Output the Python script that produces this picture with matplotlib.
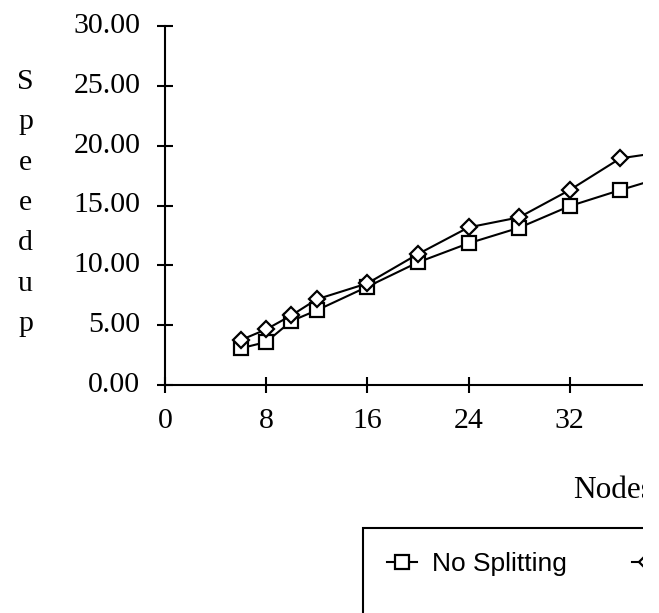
import matplotlib
matplotlib.use("Agg")
import matplotlib.pyplot as plt
from matplotlib.patches import Rectangle
from matplotlib.ticker import FormatStrFormatter

# データ
nodes = [6, 8, 10, 12, 16, 20, 24, 28, 32, 36, 40]
no_split = [3.07, 3.59, 5.35, 6.24, 8.21, 10.25, 11.84, 13.14, 14.95, 16.29, 17.56]
split = [3.76, 4.65, 5.82, 7.16, 8.49, 10.94, 13.17, 14.01, 16.29, 18.94, 19.56]
x_ticks = [0, 8, 16, 24, 32]
y_ticks = [0, 5, 10, 15, 20, 25, 30]
labels = ["No Splitting", "Splitting"]

W, H = 659, 613
serif = "Liberation Serif"
sans = "Liberation Sans"

fig = plt.figure(figsize=(W / 100, H / 100), dpi=100)
ax = fig.add_axes([165 / W, 228 / H, 607 / W, 359 / H])

l1, = ax.plot(nodes, no_split, color="black", lw=1.5, marker="s", ms=10,
              mfc="white", mec="black", mew=1.6, label=labels[0])
l2, = ax.plot(nodes, split, color="black", lw=1.5, marker="D", ms=8.5,
              mfc="white", mec="black", mew=1.6, label=labels[1])

ax.set_xlim(0, 48)
ax.set_ylim(0, 30)
ax.set_xticks(x_ticks)
ax.set_yticks(y_ticks)
ax.yaxis.set_major_formatter(FormatStrFormatter("%.2f"))
for s in ["top", "right"]:
    ax.spines[s].set_visible(False)
for s in ["left", "bottom"]:
    ax.spines[s].set_linewidth(1.5)
ax.tick_params(direction="inout", length=11.5, width=1.5, labelsize=21.5)
ax.tick_params(axis="x", pad=11)
ax.tick_params(axis="y", pad=12)
for lab in ax.get_xticklabels() + ax.get_yticklabels():
    lab.set_fontfamily(serif)
for lab in ax.get_yticklabels():
    lab.set_verticalalignment("center")

# 縦書きの軸ラベル
fig.text(25.5 / W, 1 - 203 / H, "\n".join("Speedup"), ha="center", va="center",
         fontsize=21.5, family=serif, linespacing=1.72)
fig.text(573 / W, 1 - 498 / H, "Nodes", ha="left", va="baseline",
         fontsize=22.5, family=serif)

# 凡例
fig.legend(handles=[l1, l2], loc="upper left",
           bbox_to_anchor=(363 / W, 1 - 528 / H), frameon=False, ncol=2,
           prop={"family": sans, "size": 19}, borderpad=0.9,
           handlelength=1.14, handletextpad=0.57, columnspacing=2.46,
           borderaxespad=0)
fig.add_artist(Rectangle((363 / W, -0.1), 1.0, 0.1 + (1 - 528 / H),
                         transform=fig.transFigure, fill=False,
                         ec="black", lw=1.5))

# 右端は切れている
fig.add_artist(Rectangle((643 / W, 0), 1.0, 1.0, transform=fig.transFigure,
                         fc="white", ec="none", zorder=10))

fig.savefig("out.png", dpi=100)
